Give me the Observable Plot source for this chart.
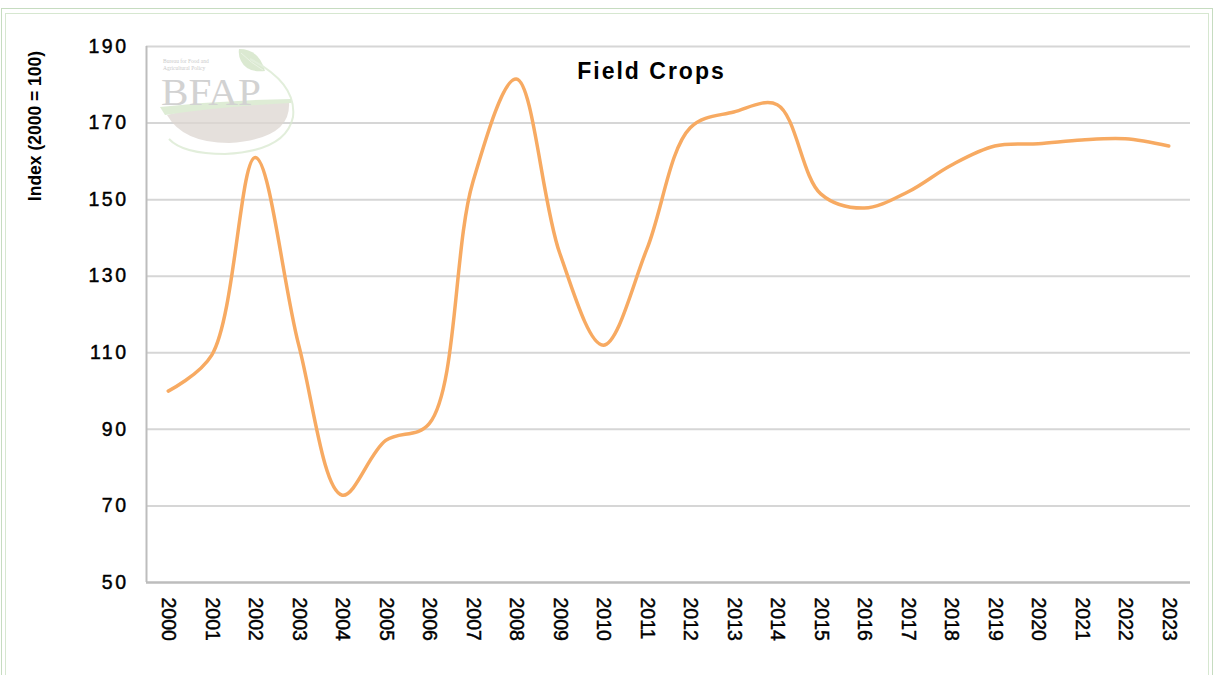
<!DOCTYPE html>
<html><head><meta charset="utf-8">
<script src="https://cdn.jsdelivr.net/npm/d3@7"></script>
<script src="https://cdn.jsdelivr.net/npm/@observablehq/plot@0.6"></script>
<style>
body{margin:0;background:#fff;font-family:"Liberation Sans",Arial,sans-serif;}
#wrap{position:relative;width:1215px;height:675px;overflow:hidden;background:#fff;}
.frame1{position:absolute;left:1px;top:8px;width:1212px;height:720px;border:1.5px solid #c6dcc0;box-sizing:border-box;}
.frame2{position:absolute;left:5px;top:13px;width:1204px;height:720px;border:1px solid #d6e7d0;box-sizing:border-box;}
#ylab{position:absolute;left:35px;top:126px;transform:translate(-50%,-50%) rotate(-90deg);white-space:nowrap;font-weight:bold;font-size:17.5px;color:#000;}
#logo{position:absolute;left:155px;top:45px;opacity:0.75;}
#chart{position:absolute;left:0;top:0;}
</style>
</head><body>
<div id="wrap">
  <div class="frame1"></div>
  <div class="frame2"></div>
  <div id="chart"></div>
  <svg id="logo" width="145" height="115" viewBox="0 0 145 115">
    <path d="M84 4 Q104 4 110 26 Q92 28 86 16 Q83 10 84 4 Z" fill="#cfe2c2"/>
    <path d="M86 8 Q96 18 108 25" stroke="#e4efdc" stroke-width="1" fill="none"/>
    <path d="M95 14 Q142 38 138 72 Q131 106 70 109 Q28 109 14 94" stroke="#d9e9d0" stroke-width="2" fill="none"/>
    <path d="M12 70 Q70 54 134 58 Q136 94 74 98 Q28 98 12 70 Z" fill="#ddd6d1"/>
    <path d="M5 62 Q70 55 136 54 L136 58 Q70 61 10 70 Z" fill="#d3e6c8"/>
    <text x="8" y="18" font-size="5.5" fill="#b8b8b8" font-family="Liberation Serif, serif">Bureau for Food and</text>
    <text x="8" y="25" font-size="5.5" fill="#b8b8b8" font-family="Liberation Serif, serif">Agricultural Policy</text>
    <text x="6" y="60" font-size="37" fill="#c4c4c4" font-family="Liberation Serif, serif" textLength="100" lengthAdjust="spacingAndGlyphs">BFAP</text>
  </svg>
  <div id="ylab">Index (2000 = 100)</div>
</div>
<script>
const years = [2000,2001,2002,2003,2004,2005,2006,2007,2008,2009,2010,2011,2012,2013,2014,2015,2016,2017,2018,2019,2020,2021,2022,2023];
const index = [100, 109.4, 161, 112, 72.8, 87.1, 91.5, 154.5, 181.5, 136, 112, 137, 168.8, 172.9, 174.8, 151.5, 147.8, 152, 159, 164, 164.6, 165.6, 165.9, 164];
const yTicks = [50, 70, 90, 110, 130, 150, 170, 190];
const title = "Field Crops";

const data = years.map((y, i) => ({year: y, value: index[i]}));
const xDomain = [years[0] - 0.5, years[years.length - 1] + 0.5];

const chart = Plot.plot({
  width: 1215,
  height: 675,
  marginLeft: 146,
  marginRight: 25,
  marginTop: 46,
  marginBottom: 93,
  style: {background: "transparent", fontFamily: "Liberation Sans, Arial, sans-serif", color: "#000"},
  x: {domain: xDomain},
  y: {domain: [50, 190]},
  marks: [
    Plot.gridY(yTicks.filter(d => d > 50), {stroke: "#d6d6d6", strokeOpacity: 1, strokeWidth: 2}),
    Plot.ruleX([xDomain[0]], {stroke: "#bdbdbd", strokeWidth: 2}),
    Plot.ruleY([50], {stroke: "#bdbdbd", strokeWidth: 2.5}),
    Plot.axisY({ticks: yTicks, tickSize: 0, tickPadding: 18, fontSize: 19.5, label: null}),
    Plot.axisX({ticks: years, tickFormat: d => String(d), tickSize: 0, tickPadding: 15, tickRotate: 90, fontSize: 19.5, label: null}),
    Plot.line(data, {x: "year", y: "value", curve: "catmull-rom", stroke: "#f7aa62", strokeWidth: 3.5}),
    Plot.text([title], {frameAnchor: "top", dx: -17, dy: 25, fontSize: 23, fontWeight: "bold", fill: "#000", lineAnchor: "middle"})
  ]
});
document.getElementById("chart").appendChild(chart);
d3.select(chart).selectAll("[aria-label='y-axis tick label'] text").attr("letter-spacing", "2.5px");
d3.select(chart).selectAll("[aria-label='y-axis tick label'], [aria-label='x-axis tick label']").attr("stroke", "#000").attr("stroke-width", 0.45);
d3.select(chart).selectAll("[aria-label='text'] text").attr("letter-spacing", "2px");
</script>
</body></html>
